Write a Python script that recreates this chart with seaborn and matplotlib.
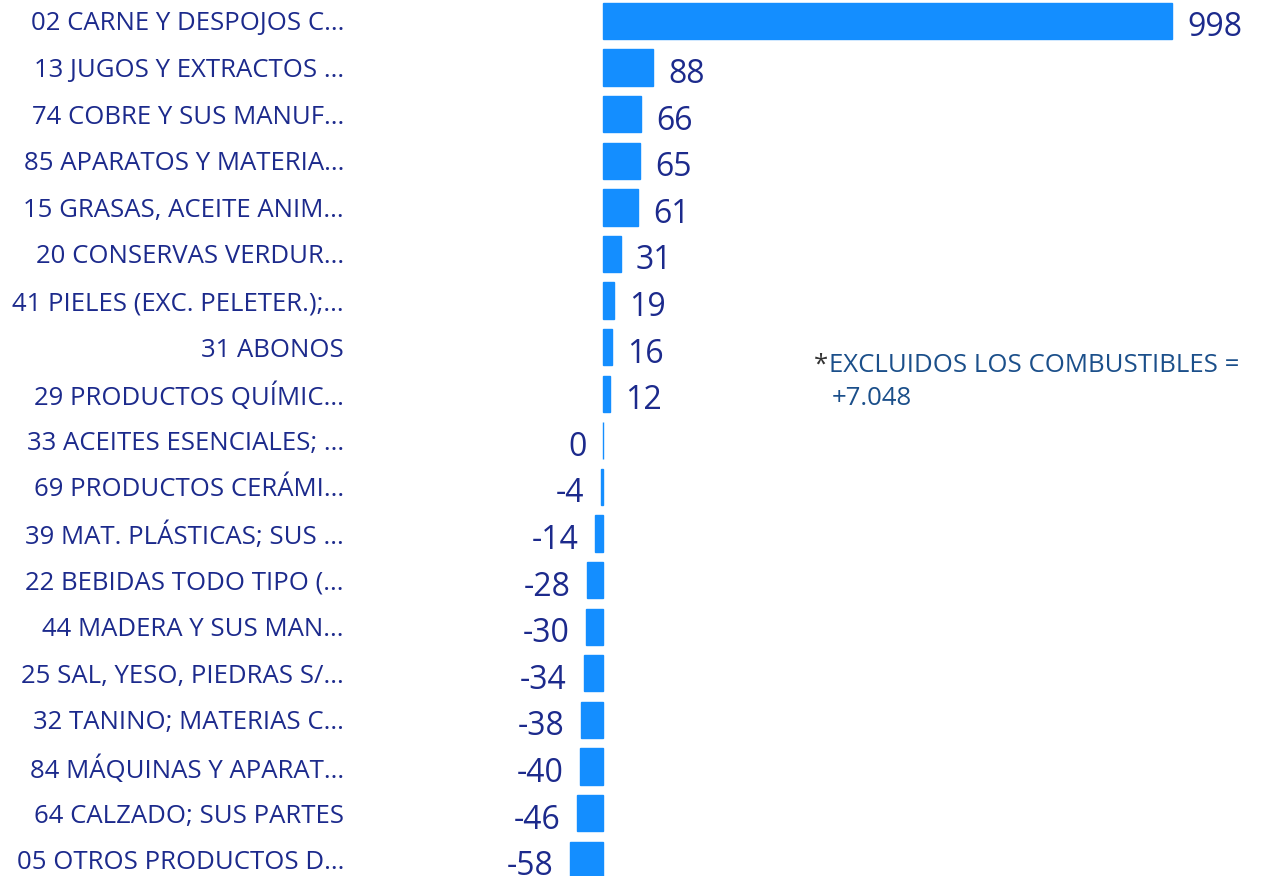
import matplotlib
matplotlib.use("Agg")
import matplotlib.pyplot as plt
import seaborn as sns
import pandas as pd

categories = [
    "02 CARNE Y DESPOJOS C...",
    "13 JUGOS Y EXTRACTOS ...",
    "74 COBRE Y SUS MANUF...",
    "85 APARATOS Y MATERIA...",
    "15 GRASAS, ACEITE ANIM...",
    "20 CONSERVAS VERDUR...",
    "41 PIELES (EXC. PELETER.);...",
    "31 ABONOS",
    "29 PRODUCTOS QUÍMIC...",
    "33 ACEITES ESENCIALES; ...",
    "69 PRODUCTOS CERÁMI...",
    "39 MAT. PLÁSTICAS; SUS ...",
    "22 BEBIDAS TODO TIPO (...",
    "44 MADERA Y SUS MAN...",
    "25 SAL, YESO, PIEDRAS S/...",
    "32 TANINO; MATERIAS C...",
    "84 MÁQUINAS Y APARAT...",
    "64 CALZADO; SUS PARTES",
    "05 OTROS PRODUCTOS D...",
]
values = [998, 88, 66, 65, 61, 31, 19, 16, 12, 0, -4, -14, -28, -30, -34, -38, -40, -46, -58]
note_line1 = "EXCLUIDOS LOS COMBUSTIBLES ="
note_line2 = "+7.048"

BAR = "#148EFF"
TXT = "#1C2A8C"
NOTE = "#1B4F8A"

sns.set_style("white")
plt.rcParams["font.family"] = ["Open Sans", "DejaVu Sans"]

df = pd.DataFrame({"cat": categories, "val": values})

W, H = 1271, 876
fig = plt.figure(figsize=(W / 100, H / 100), dpi=100)
ax = fig.add_axes([355 / W, 0, (W - 355) / W, 1])

sns.barplot(data=df, y="cat", x="val", orient="h", color=BAR, width=0.78,
            saturation=1, edgecolor=BAR, linewidth=1.0, ax=ax)

ax.set_xlim(-435, 1172)
ax.set_ylim(18.35, -0.45)
for s in ax.spines.values():
    s.set_visible(False)
ax.set_xticks([])
ax.set_xlabel("")
ax.set_ylabel("")
ax.tick_params(axis="y", length=0, pad=8, labelsize=18.5, labelcolor=TXT)

for i, v in enumerate(values):
    if v > 0:
        ax.annotate(f"{v}", xy=(v, i), xytext=(11, -5), textcoords="offset points",
                    ha="left", va="center", fontsize=23, color=TXT)
    else:
        ax.annotate(f"{v}", xy=(v, i), xytext=(-12, -5), textcoords="offset points",
                    ha="right", va="center", fontsize=23, color=TXT)

fig.text(814 / W, 1 - 365 / H, "*", ha="left", va="center", fontsize=18.5, color="#333333")
fig.text(829 / W, 1 - 365 / H, note_line1, ha="left", va="center", fontsize=18.5, color=NOTE)
fig.text(832 / W, 1 - 399 / H, note_line2, ha="left", va="center", fontsize=18.5, color=NOTE)

fig.savefig("out.png", dpi=100)
